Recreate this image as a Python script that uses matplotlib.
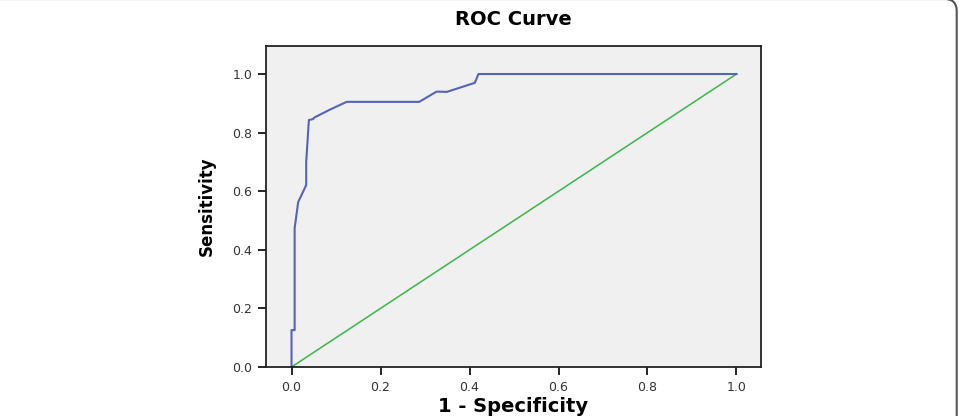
import matplotlib
matplotlib.use("Agg")
import matplotlib.pyplot as plt
from matplotlib.patches import FancyBboxPatch

# ROC curve points
fpr = [0.0, 0.0, 0.007, 0.007, 0.015, 0.033, 0.033, 0.039, 0.048, 0.052,
       0.087, 0.124, 0.287, 0.326, 0.349, 0.412, 0.420, 1.0]
tpr = [0.0, 0.126, 0.126, 0.474, 0.563, 0.621, 0.700, 0.843, 0.846, 0.852,
       0.879, 0.905, 0.905, 0.940, 0.939, 0.970, 1.0, 1.0]

# reference line
ref_x = [0.0, 1.0]
ref_y = [0.0, 1.0]

x_ticks = [0.0, 0.2, 0.4, 0.6, 0.8, 1.0]
y_ticks = [0.0, 0.2, 0.4, 0.6, 0.8, 1.0]

fig = plt.figure(figsize=(9.59, 4.16), dpi=100)
ax = fig.add_axes([0.2774, 0.1178, 0.5161, 0.7716])
ax.set_facecolor("#f0f0f0")

ax.plot(ref_x, ref_y, color="#3cb44a", linewidth=1.1)
ax.plot(fpr, tpr, color="#5564b4", linewidth=1.5)

ax.set_xlim(-0.0573, 1.055)
ax.set_ylim(0.0, 1.0956)
ax.set_xticks(x_ticks)
ax.set_yticks(y_ticks)
ax.set_xticklabels([f"{t:.1f}" for t in x_ticks])
ax.set_yticklabels([f"{t:.1f}" for t in y_ticks])
ax.tick_params(direction="out", length=6, width=1.2, labelsize=9,
               labelcolor="#333333", pad=4)
for sp in ax.spines.values():
    sp.set_linewidth(1.3)
    sp.set_color("#222222")

ax.set_title("ROC Curve", fontsize=14, fontweight="bold", pad=15)
ax.set_xlabel("1 - Specificity", fontsize=14, fontweight="bold", labelpad=2)
ax.set_ylabel("Sensitivity", fontsize=12, fontweight="bold",
              family=["DejaVu Sans Condensed", "DejaVu Sans"], labelpad=12)

# thin rounded frame visible on the right edge of the image
frame = FancyBboxPatch((-1.0, -1.0), 10.567, 5.17,
                       boxstyle="round,pad=0,rounding_size=0.12",
                       transform=fig.dpi_scale_trans, fill=False,
                       edgecolor="#555555", linewidth=1.5, clip_on=False)
fig.add_artist(frame)

fig.savefig("out.png", dpi=100, facecolor="white")
